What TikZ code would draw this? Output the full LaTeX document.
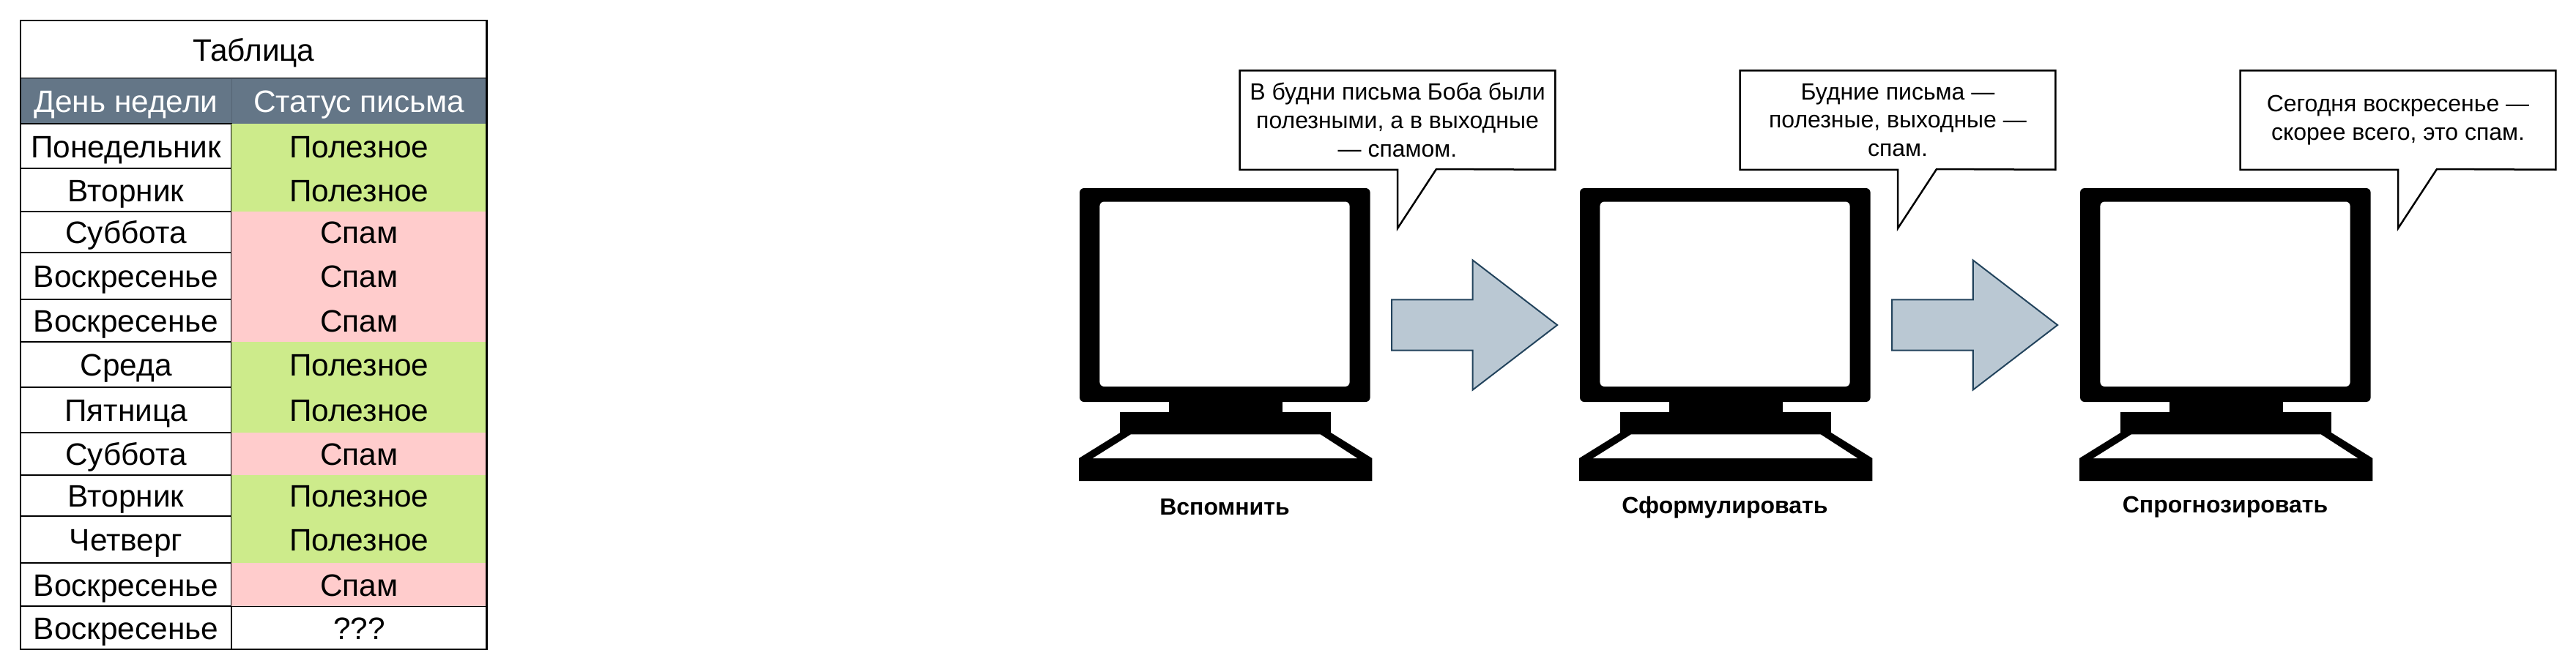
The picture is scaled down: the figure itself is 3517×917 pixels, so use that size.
\documentclass[tikz,border=0pt]{standalone}
\usepackage{fontspec}
\setmainfont{Liberation Sans}
\usepackage{xcolor}
\usetikzlibrary{shapes}
\definecolor{headblue}{HTML}{647687}
\definecolor{goodgreen}{HTML}{CDEB8B}
\definecolor{spamred}{HTML}{FFCCCC}
\definecolor{arrowfill}{HTML}{BAC8D3}
\definecolor{arrowline}{HTML}{23445D}
\tikzset{
  cell/.style={rectangle,inner ysep=0,outer sep=0,anchor=north west,text height=0.385cm,text depth=0.07cm,font=\fontsize{12.05}{14}\selectfont},
  title/.style={cell,draw,line width=0.015cm,minimum width=6.365cm,minimum height=0.79cm},
  head/.style={cell,draw=headblue!85!black,line width=0.01cm,fill=headblue,text=white,minimum height=0.62cm},
  day/.style={cell,draw,line width=0.022cm,minimum width=2.88cm},
  good/.style={cell,fill=goodgreen,minimum width=3.485cm},
  spam/.style={good,fill=spamred},
  say/.style={rectangle,inner sep=0,align=center,minimum width=4.29cm,minimum height=1.34cm,font=\fontsize{9.1}{11}\selectfont},
  sayline/.style={draw,line width=0.025cm},
  stepname/.style={inner sep=0,font=\fontsize{9.1}{11}\bfseries\selectfont},
  go/.style={single arrow,draw=arrowline,fill=arrowfill,line width=0.02cm,inner xsep=0,inner ysep=0.335cm,minimum height=2.26cm,single arrow head extend=0.54cm,single arrow tip angle=75,anchor=tail},
  monitor/.pic={
    \fill[rounded corners=0.06cm] (0,0) rectangle (396.6,292);
    \fill[white,rounded corners=0.06cm] (27.4,18.5) rectangle (368.6,271);
    \fill (122,290) rectangle (276.7,306);
    \fill (55.4,306) rectangle (343,335.5);
    \fill (55.4,334) -- (-1,369) -- (-1,400) -- (399.3,400) -- (399.3,369) -- (343,334) -- cycle;
    \fill[white] (70,336.4) -- (328.6,336.4) -- (379,369) -- (18,369) -- cycle;
  }
}

\begin{document}
\begin{tikzpicture}[x=0.01cm,y=-0.01cm]
    \useasboundingbox (0,0) rectangle (3517,917);

    % table
    \node[title] (t) at (28,28) {Таблица};
    \node[head,minimum width=2.88cm] (h1) at (28,107) {День недели};
    \node[head,minimum width=3.485cm] (h2) at (316,107) {Статус письма};

    \node[day,minimum height=0.61cm] (d1) at (28,169) {Понедельник};
    \node[day,minimum height=0.59cm] (d2) at (28,230) {Вторник};
    \node[day,minimum height=0.56cm] (d3) at (28,289) {Суббота};
    \node[day,minimum height=0.64cm] (d4) at (28,345) {Воскресенье};
    \node[day,minimum height=0.58cm] (d5) at (28,409) {Воскресенье};
    \node[day,minimum height=0.62cm] (d6) at (28,467) {Среда};
    \node[day,minimum height=0.62cm] (d7) at (28,529) {Пятница};
    \node[day,minimum height=0.58cm] (d8) at (28,591) {Суббота};
    \node[day,minimum height=0.56cm] (d9) at (28,649) {Вторник};
    \node[day,minimum height=0.64cm] (d10) at (28,705) {Четверг};
    \node[day,minimum height=0.59cm] (d11) at (28,769) {Воскресенье};
    \node[day,minimum height=0.59cm] (d12) at (28,828) {Воскресенье};

    \node[good,minimum height=0.61cm] (s1) at (316,169) {Полезное};
    \node[good,minimum height=0.59cm] (s2) at (316,230) {Полезное};
    \node[spam,minimum height=0.56cm] (s3) at (316,289) {Спам};
    \node[spam,minimum height=0.64cm] (s4) at (316,345) {Спам};
    \node[spam,minimum height=0.58cm] (s5) at (316,409) {Спам};
    \node[good,minimum height=0.62cm] (s6) at (316,467) {Полезное};
    \node[good,minimum height=0.62cm] (s7) at (316,529) {Полезное};
    \node[spam,minimum height=0.58cm] (s8) at (316,591) {Спам};
    \node[good,minimum height=0.56cm] (s9) at (316,649) {Полезное};
    \node[good,minimum height=0.64cm] (s10) at (316,705) {Полезное};
    \node[spam,minimum height=0.59cm] (s11) at (316,769) {Спам};
    \node[good,fill=white,draw,line width=0.01cm,minimum height=0.59cm] (s12) at (316,828) {???};

    \draw[line width=0.028cm] (t.north west) rectangle (s12.south east);

    % computers
    \pic at (1474,257) {monitor};
    \pic at (2157,257) {monitor};
    \pic at (2840,257) {monitor};

    \node[stepname] (n1) at (1672,693) {Вспомнить};
    \node[stepname] (n2) at (2355,693) {Сформулировать};
    \node[stepname] (n3) at (3038,693) {Спрогнозировать};

    % speech bubbles
    \node[say] (b1) at (1908,164) {В будни письма Боба были\\полезными, а в выходные\\--- спамом.};
    \node[say] (b2) at (2591,164) {Будние письма ---\\полезные, выходные ---\\спам.};
    \node[say] (b3) at (3274,164) {Сегодня воскресенье ---\\скорее всего, это спам.};

    \coordinate (p1) at (1908,312);
    \coordinate (p2) at (2591,312);
    \coordinate (p3) at (3274,312);
    \coordinate (q1) at (1961,231);
    \coordinate (q2) at (2644,231);
    \coordinate (q3) at (3327,231);

    \draw[sayline] (b1.north west) -- (b1.north east) -- (b1.south east) -- (q1) -- (p1) -- (p1 |- b1.south) -- (b1.south west) -- cycle;
    \draw[sayline] (b2.north west) -- (b2.north east) -- (b2.south east) -- (q2) -- (p2) -- (p2 |- b2.south) -- (b2.south west) -- cycle;
    \draw[sayline] (b3.north west) -- (b3.north east) -- (b3.south east) -- (q3) -- (p3) -- (p3 |- b3.south) -- (b3.south west) -- cycle;

    % arrows
    \node[go] (a1) at (1899,444) {};
    \node[go] (a2) at (2582,444) {};
\end{tikzpicture}
\end{document}
